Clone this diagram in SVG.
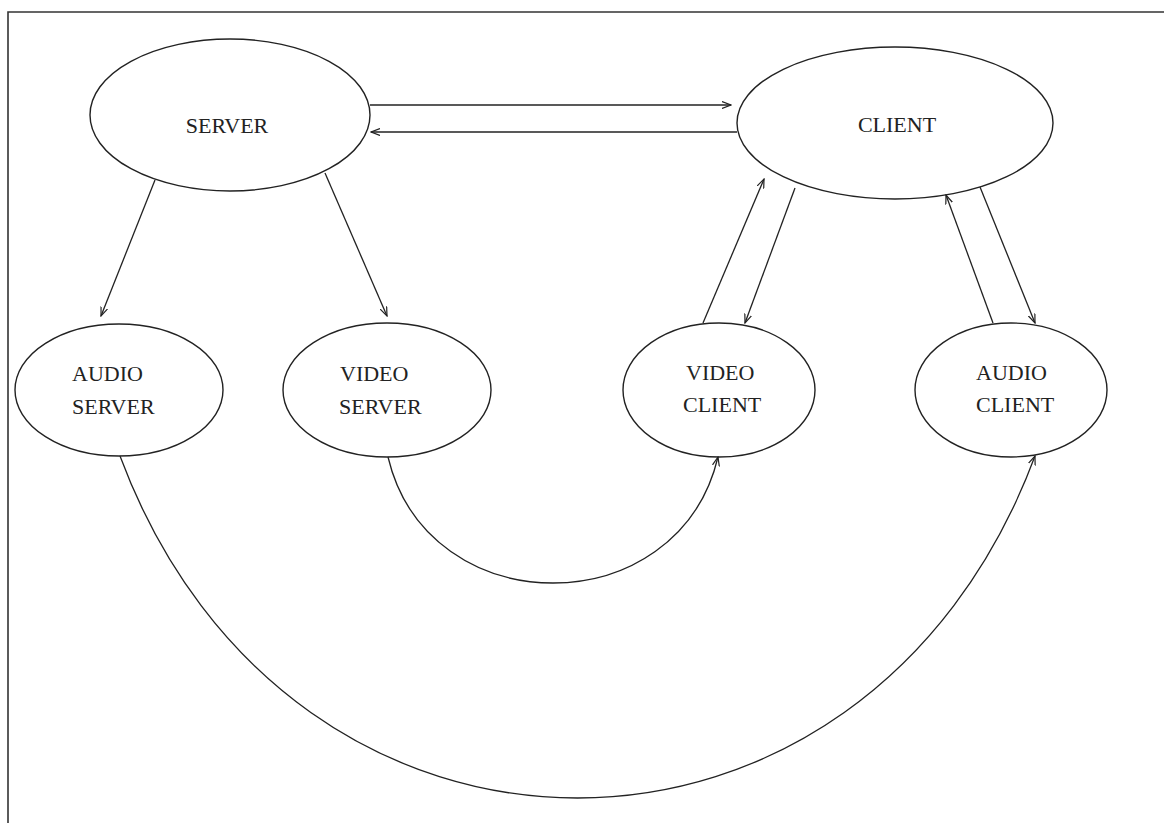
<svg xmlns="http://www.w3.org/2000/svg" width="1164" height="823" viewBox="0 0 1164 823">
  <defs>
    <style>
      .node ellipse { fill: #ffffff; stroke: #222; stroke-width: 1.4; }
      .node text { font-family: "Liberation Serif", "Times New Roman", serif; font-size: 22px; fill: #222; }
      .edge { fill: none; stroke: #222; stroke-width: 1.3; marker-end: url(#arrow); }
      .frame { fill: none; stroke: #333; stroke-width: 1.6; }
    </style>
    <marker id="arrow" viewBox="0 0 10 8" refX="9" refY="4" markerWidth="10" markerHeight="8" markerUnits="userSpaceOnUse" orient="auto">
      <path d="M0,0.5 L9,4 L0,7.5" fill="none" stroke="#222" stroke-width="1.2"/>
    </marker>
  </defs>

  <rect width="1164" height="823" fill="#ffffff"/>

  <!-- page frame: top and left rules -->
  <path class="frame" d="M8,823 L8,12 L1164,12"/>

  <g id="server" class="node">
    <ellipse cx="230" cy="115" rx="140" ry="76"/>
    <text x="227" y="133" text-anchor="middle">SERVER</text>
  </g>

  <g id="client" class="node">
    <ellipse cx="895" cy="123" rx="158" ry="76"/>
    <text x="897" y="132" text-anchor="middle">CLIENT</text>
  </g>

  <g id="audio-server" class="node">
    <ellipse cx="119" cy="390" rx="104" ry="66"/>
    <text x="72" y="381">AUDIO</text>
    <text x="72" y="414">SERVER</text>
  </g>

  <g id="video-server" class="node">
    <ellipse cx="387" cy="390" rx="104" ry="67"/>
    <text x="340" y="381">VIDEO</text>
    <text x="339" y="414">SERVER</text>
  </g>

  <g id="video-client" class="node">
    <ellipse cx="719" cy="390" rx="96" ry="67"/>
    <text x="686" y="380">VIDEO</text>
    <text x="683" y="412">CLIENT</text>
  </g>

  <g id="audio-client" class="node">
    <ellipse cx="1011" cy="390" rx="96" ry="67"/>
    <text x="976" y="380">AUDIO</text>
    <text x="976" y="412">CLIENT</text>
  </g>

  <g id="connectors">
    <!-- SERVER <-> CLIENT -->
    <path class="edge" d="M370,105 L731,105"/>
    <path class="edge" d="M737,132 L371,132"/>
    <!-- SERVER -> audio / video servers -->
    <path class="edge" d="M155,180 L101,316"/>
    <path class="edge" d="M325,173 L387,316"/>
    <!-- CLIENT <-> VIDEO CLIENT -->
    <path class="edge" d="M703,323 L764,179"/>
    <path class="edge" d="M795,188 L745,323"/>
    <!-- CLIENT <-> AUDIO CLIENT -->
    <path class="edge" d="M993,323 L946,195"/>
    <path class="edge" d="M980,187 L1035,323"/>
    <!-- media streams -->
    <path class="edge" d="M388,457 C428,625 678,625 718,457"/>
    <path class="edge" d="M120,456 C290,912 865,912 1035,456"/>
  </g>
</svg>
